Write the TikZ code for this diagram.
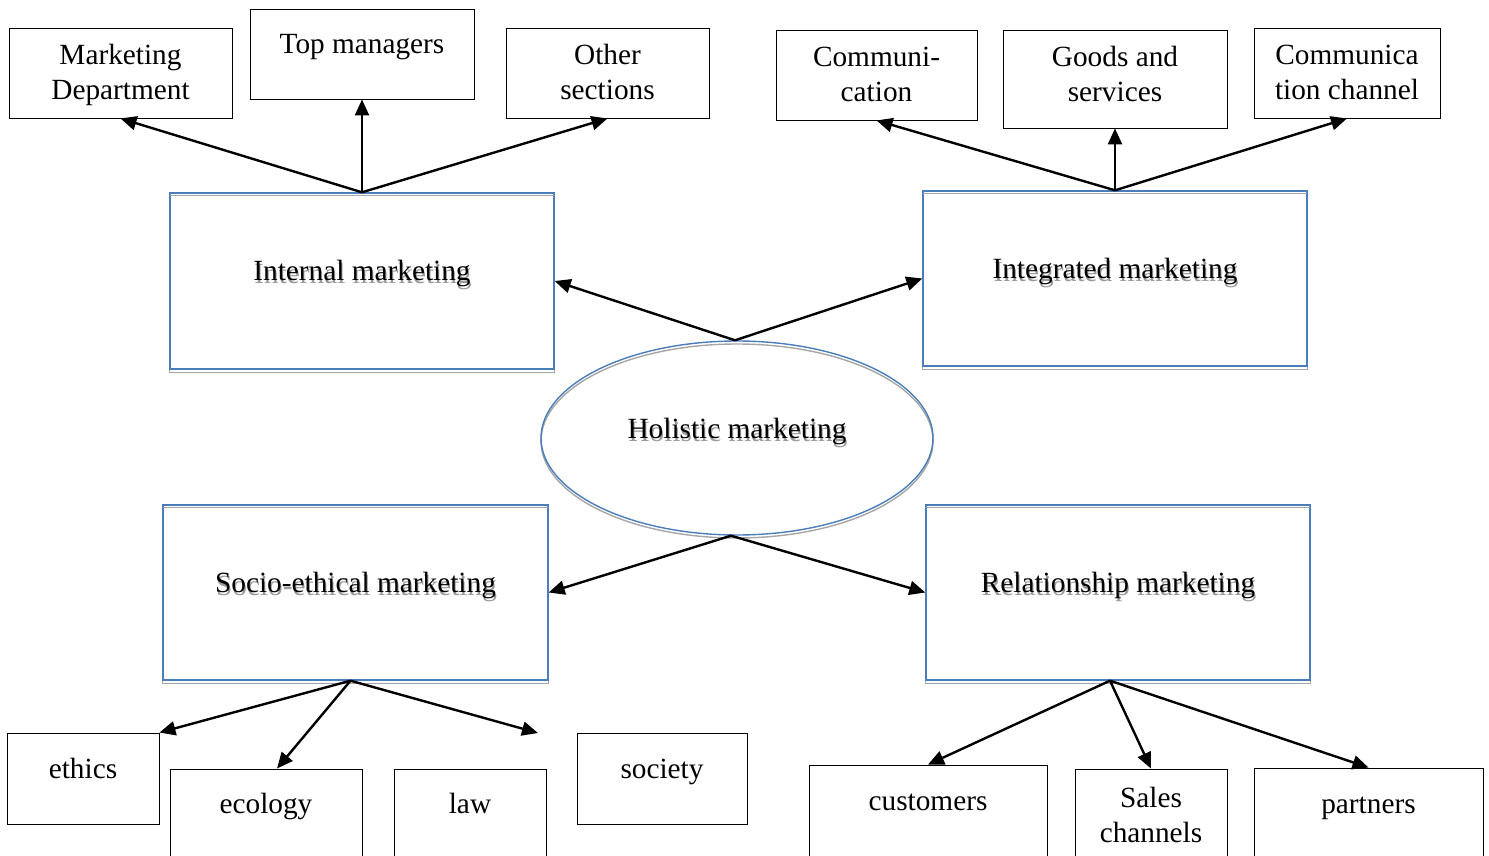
\documentclass[tikz,border=0pt]{standalone}
\usepackage{fontspec}
\setmainfont{Liberation Serif}
\usetikzlibrary{arrows.meta,shapes.geometric}

\definecolor{frameblue}{HTML}{4A7EBB}
\definecolor{shadowgray}{HTML}{A6A6A6}
\definecolor{textshadow}{HTML}{9A9A9A}

% text with a soft grey copy set slightly below it
\newcommand\shadowed[1]{\makebox[0pt][l]{\hspace{1pt}\raisebox{-3pt}{\textcolor{textshadow}{#1}}}#1}
% fixed-size cell: width, height, top padding, content
\newcommand\cellbox[4]{\parbox[c][#2pt][t]{#1pt}{\centering\vspace*{#3pt}\strut#4}}

\tikzset{
  sbox/.style={draw=black, line width=0.9pt, inner sep=0pt},
  mbox/.style={draw=frameblue, line width=1.4pt, inner sep=0pt},
  shadowline/.style={draw=shadowgray, line width=1.4pt},
  arr/.style={-{Triangle[length=16pt,width=14pt]}, line width=2.4pt},
}

\begin{document}
\begin{tikzpicture}[x=1pt, y=-1pt,
  font=\fontsize{29.3}{35}\selectfont]
\useasboundingbox (0,0) rectangle (1489,856);
\clip (0,0) rectangle (1489,856);

% central ellipse
\draw[shadowline] ([yshift=-3pt]737,438) ellipse (196pt and 97pt);
\node[mbox, ellipse, minimum width=392pt, minimum height=194pt,
      text height=10pt, text depth=10pt] (hm) at (737,438) {\shadowed{Holistic marketing}};

% four marketing areas
\node[mbox] (im) at (362,281)    {\cellbox{384}{176}{62.5}{\shadowed{Internal marketing}}};
\node[mbox] (ig) at (1115,278.5) {\cellbox{384}{175}{62.5}{\shadowed{Integrated marketing}}};
\node[mbox] (se) at (355.5,592.5){\cellbox{385}{175}{62.5}{\shadowed{Socio-ethical marketing}}};
\node[mbox] (rm) at (1118,592.5) {\cellbox{384}{175}{62.5}{\shadowed{Relationship marketing}}};

\foreach \n in {im,ig,se,rm}
  \draw[shadowline] ([yshift=-3pt]\n.north west) rectangle ([yshift=-3pt]\n.south east);
\foreach \n in {im,ig,se,rm}
  \draw[frameblue, line width=1.4pt] (\n.north west) rectangle (\n.south east);

% internal marketing targets
\node[sbox] (md) at (120.5,73) {\cellbox{223}{90}{12.5}{Marketing\\Department}};
\node[sbox] (tm) at (362,54)   {\cellbox{224}{90}{20.5}{Top managers}};
\node[sbox] (os) at (607.5,73) {\cellbox{203}{90}{12.5}{Other\\sections}};

% integrated marketing targets
\node[sbox] (cm) at (876.5,75) {\cellbox{201}{90}{12.5}{Communi-\\cation}};
\node[sbox] (gs) at (1115,79)  {\cellbox{224}{98}{12.5}{Goods and\\services}};
\node[sbox] (cc) at (1347,73)  {\cellbox{186}{90}{12.5}{Communica\\tion channel}};

% socio-ethical targets
\node[sbox] (ethics)  at (83,778.5)  {\cellbox{152}{91}{20.5}{ethics}};
\node[sbox] (ecology) at (266,819.5) {\cellbox{192}{101}{19.5}{ecology}};
\node[sbox] (law)     at (470,819.5) {\cellbox{152}{101}{19.5}{law}};
\node[sbox] (society) at (662,778.5) {\cellbox{170}{91}{20.5}{society}};

% relationship targets
\node[sbox] (customers) at (928,817.5)  {\cellbox{238}{105}{20.5}{customers}};
\node[sbox] (sales)     at (1151,819.5) {\cellbox{152}{101}{13.5}{Sales\\channels}};
\node[sbox] (partners)  at (1368.5,819) {\cellbox{229}{102}{20.5}{partners}};

% connectors
\draw[arr] (im.north) -- (md.south);
\draw[arr] (im.north) -- (tm.south);
\draw[arr] (im.north) -- (os.south);

\draw[arr] (ig.north) -- (cm.south);
\draw[arr] (ig.north) -- (gs.south);
\draw[arr] (ig.north) -- (cc.south);

\coordinate (ht) at ([xshift=-2pt]hm.north);
\coordinate (hb) at ([xshift=-6pt]hm.south);
\draw[arr] (ht) -- (im.east);
\draw[arr] (ht) -- (ig.west);
\draw[arr] (hb) -- (se.east);
\draw[arr] (hb) -- (rm.west);

\coordinate (sf) at ([xshift=-5pt]se.south);
\coordinate (lawend) at (538,733);
\draw[arr] (sf) -- (ethics.north east);
\draw[arr] (sf) -- ([xshift=11pt]ecology.north);
\draw[arr] (sf) -- (lawend);

\coordinate (rf) at ([xshift=-8pt]rm.south);
\draw[arr] (rf) -- (customers.north);
\draw[arr] (rf) -- (sales.north);
\draw[arr] (rf) -- (partners.north);
\end{tikzpicture}
\end{document}
